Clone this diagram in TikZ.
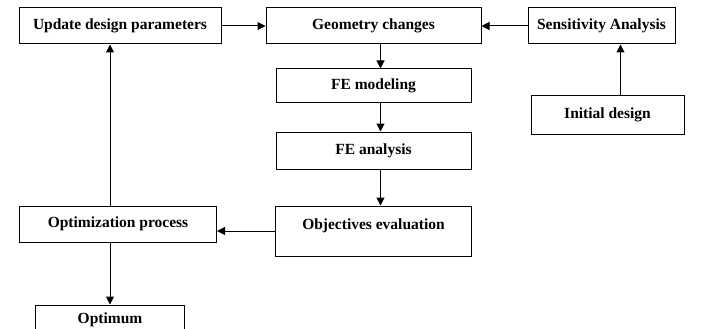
\documentclass[tikz,border=0pt]{standalone}
\usepackage{fontspec}
\setmainfont{Liberation Serif}
\usepackage{tikz}
\usetikzlibrary{arrows.meta,positioning}

\begin{document}
\begin{tikzpicture}[
x=1pt, y=-1pt,
font=\fontsize{15.5}{18}\selectfont\bfseries,
box/.style={draw, line width=1pt, inner sep=0pt, minimum height=36pt, align=center},
arr/.style={-{Triangle[length=8pt,width=8pt]}, line width=1pt}
]
\useasboundingbox (0,0) rectangle (704,329);

\node[box, minimum width=202pt] (upd) at (120,26) {Update design parameters};
\node[box, minimum width=215pt, right=44pt of upd] (geom) {Geometry changes};
\node[box, minimum width=147pt, right=46pt of geom] (sens) {Sensitivity Analysis};
\node[box, minimum width=195pt, minimum height=33pt, below=24pt of geom] (femod) {FE modeling};
\node[box, minimum width=195pt, minimum height=37pt, below=29pt of femod] (fean) {FE analysis};
\node[box, minimum width=196pt, minimum height=0pt, text height=23pt, text depth=27pt, below=36pt of fean] (obj) {Objectives evaluation};
\node[box, minimum width=153pt, minimum height=39pt, below=50pt of sens, xshift=6pt] (init) {Initial design};
\node[box, minimum width=197pt, anchor=north east] (opt) at ([xshift=-58pt]obj.north west) {Optimization process};
\node[box, minimum width=149pt, minimum height=0pt, text height=18pt, text depth=18pt, below=62pt of opt, xshift=-8pt] (optimum) {Optimum};

\draw[arr] (upd) -- (geom);
\draw[arr] (sens) -- (geom);
\draw[arr] ([xshift=7pt]geom.south) -- ([xshift=7pt]geom.south |- femod.north);
\draw[arr] ([xshift=7pt]geom.south |- femod.south) -- ([xshift=7pt]geom.south |- fean.north);
\draw[arr] ([xshift=7pt]geom.south |- fean.south) -- ([xshift=7pt]geom.south |- obj.north);
\draw[arr] (obj.west) -- (obj.west -| opt.east);
\draw[arr] ([xshift=-8pt]opt.north) -- ([xshift=-8pt]opt.north |- upd.south);
\draw[arr] ([xshift=-8pt]opt.south) -- (optimum.north);
\draw[arr] ([xshift=13pt]init.north) -- ([xshift=13pt]init.north |- sens.south);
\end{tikzpicture}
\end{document}
